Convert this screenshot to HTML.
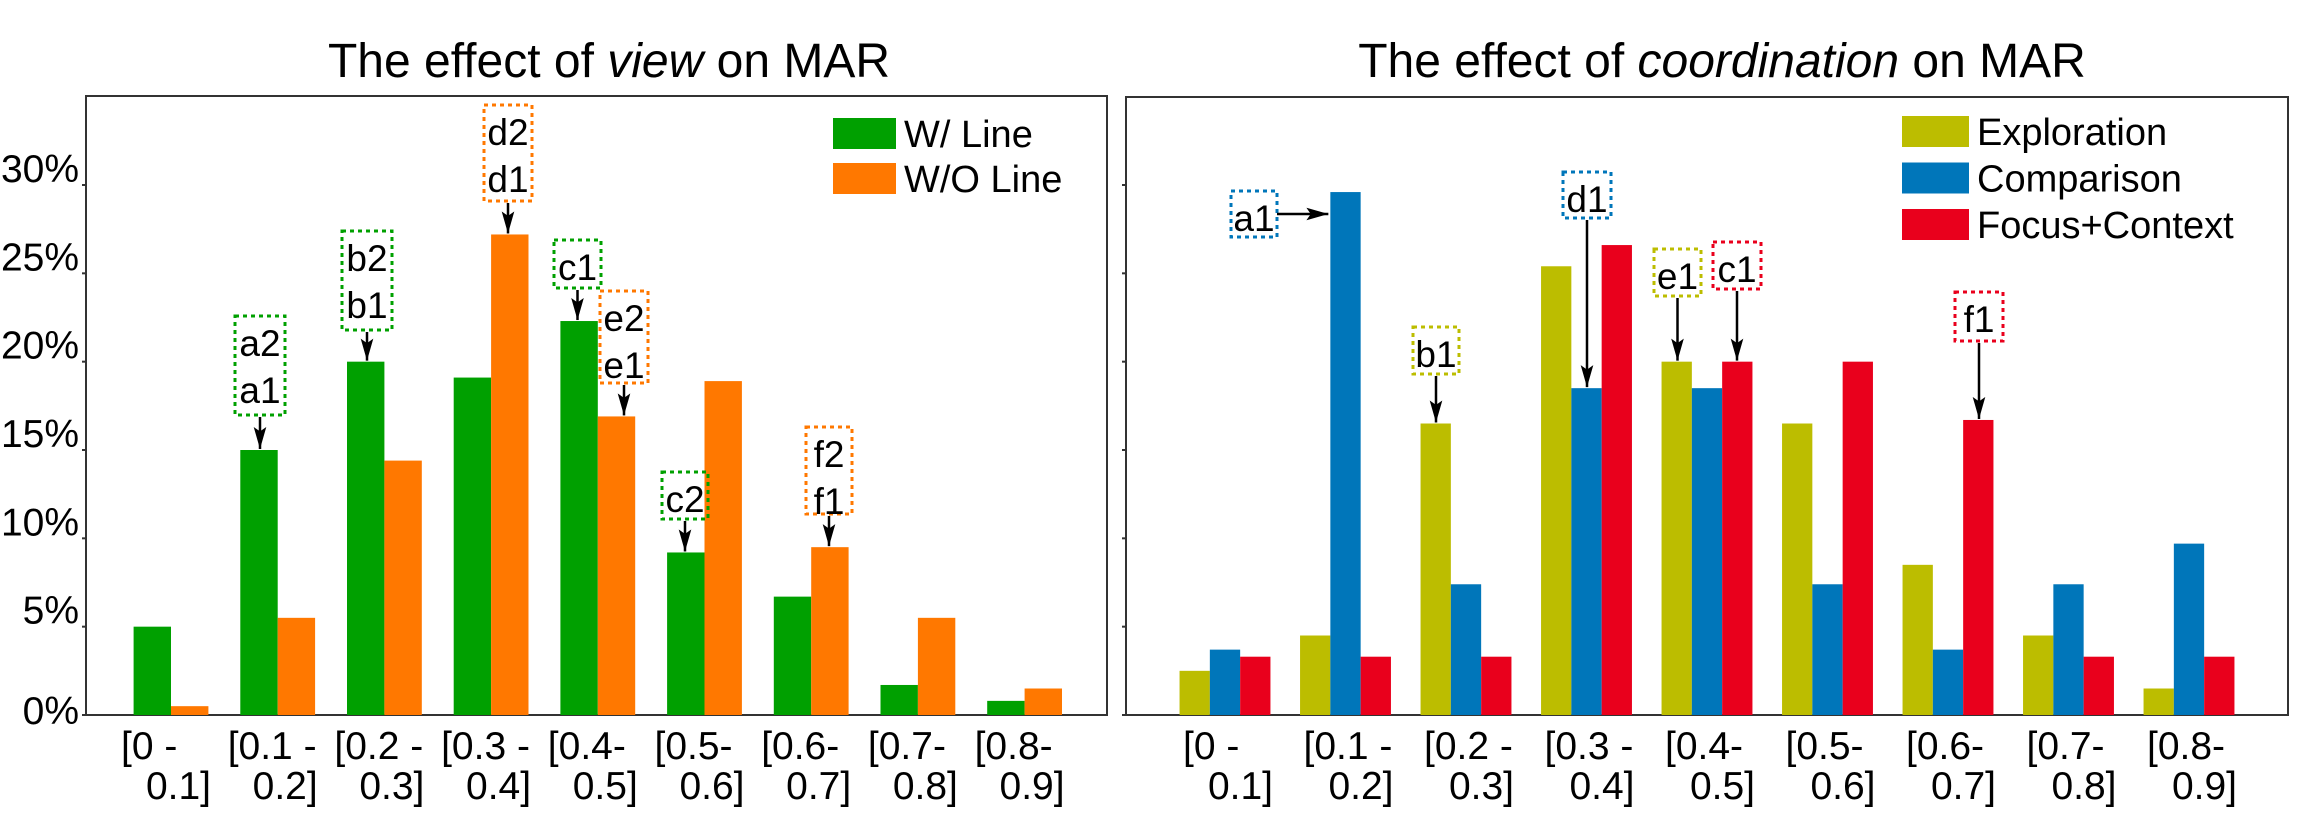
<!DOCTYPE html>
<html><head><meta charset="utf-8">
<style>
html,body{margin:0;padding:0;background:#fff;}
svg{display:block;font-family:"Liberation Sans",Arial,sans-serif;}
</style></head>
<body>
<svg id="chart" width="2307" height="835" viewBox="0 0 2307 835" xmlns="http://www.w3.org/2000/svg">
<defs>
<marker id="ah" viewBox="0 0 10 10" refX="10" refY="5" markerWidth="22" markerHeight="14" markerUnits="userSpaceOnUse" orient="auto" preserveAspectRatio="none">
<path d="M0,0.5 L10,5 L0,9.5 L2,5 z" fill="#000"/></marker>
</defs>
<g id="left"></g>
<g id="right"></g>
</svg>
<script>
const categoriesL1 = ["[0 -","[0.1 -","[0.2 -","[0.3 -","[0.4-","[0.5-","[0.6-","[0.7-","[0.8-"];
const categoriesL2 = ["0.1]","0.2]","0.3]","0.4]","0.5]","0.6]","0.7]","0.8]","0.9]"];
const yTicks = [0,5,10,15,20,25,30];
const yTickLabels = ["0%","5%","10%","15%","20%","25%","30%"];
const withLine = [5,15,20,19.1,22.3,9.2,6.7,1.7,0.8];
const withoutLine = [0.5,5.5,14.4,27.2,16.9,18.9,9.5,5.5,1.5];
const exploration = [2.5,4.5,16.5,25.4,20,16.5,8.5,4.5,1.5];
const comparison = [3.7,29.6,7.4,18.5,18.5,7.4,3.7,7.4,9.7];
const focusContext = [3.3,3.3,3.3,26.6,20,20,16.7,3.3,3.3];

const NS="http://www.w3.org/2000/svg";
function mk(parent,tag,attrs,text){const e=document.createElementNS(NS,tag);for(const k in attrs)e.setAttribute(k,attrs[k]);if(text!==undefined)e.textContent=text;parent.appendChild(e);return e;}
const y0=715, pxPer=(715-185)/30;
function y(v){return y0-v*pxPer;}

function drawChart(g,opt){
  const t=mk(g,'text',{x:opt.titleX,y:77,'text-anchor':'middle','font-size':48,fill:'#000'});
  
  
  mk(t,'tspan',{},'The effect of ');
  mk(t,'tspan',{'font-style':'italic'},opt.titleItalic);
  mk(t,'tspan',{},' on MAR');
  const fr=mk(g,'rect',{x:opt.left,y:opt.top,width:opt.right-opt.left,height:y0-opt.top,fill:'none',stroke:'#333','stroke-width':2});
  
  
  yTicks.forEach((v,i)=>{
    const tk=mk(g,'line',{x1:opt.left-4,x2:opt.left,y1:y(v),y2:y(v),stroke:'#333','stroke-width':2});
    
    
    if(opt.yLabels){
      const lb=mk(g,'text',{x:79,y:y(v)+(v===0?9:-3),'text-anchor':'end','font-size':39,fill:'#000'},yTickLabels[i]);
      
      
    }
  });
  const n=opt.series.length;
  categoriesL1.forEach((c,i)=>{
    const cx=opt.c0+opt.step*i;
    opt.series.forEach((s,j)=>{
      const x=cx-opt.bw*n/2+opt.bw*j;
      const r=mk(g,'rect',{x:x,y:y(s.data[i]),width:opt.bw,height:y0-y(s.data[i]),fill:s.color});
      
      
    });
    const l1=mk(g,'text',{x:cx+opt.l1off,y:759,'font-size':39,fill:'#000'},c);
    
    
    const l2=mk(g,'text',{x:cx+opt.l2off,y:799,'text-anchor':'end','font-size':39,fill:'#000'},categoriesL2[i]);
    
    
  });
  opt.series.forEach((s,j)=>{
    const ly=opt.legY+j*opt.legStep;
    const sw=mk(g,'rect',{x:opt.legX,y:ly,width:opt.legW,height:31,fill:s.color});
    
    
    const lt=mk(g,'text',{x:opt.legX+opt.legW+8,y:ly+29,'font-size':38,fill:'#000'},s.name);
    
    
  });
  opt.annos.forEach(a=>{
    const s=opt.series[a.s];
    const bx=opt.c0+opt.step*a.g-opt.bw*n/2+opt.bw*a.s+opt.bw/2;
    const box=mk(g,'rect',{x:a.x,y:a.y,width:a.w,height:a.h,fill:'none',stroke:a.col,'stroke-width':3,'stroke-dasharray':'4 4'});
    
    
    a.labels.forEach((tx,k)=>{
      const at=mk(g,'text',{x:a.x+a.w/2,y:a.y+40+k*47,'text-anchor':'middle','font-size':37,fill:'#000'},tx);
      
      
    });
    let ar;
    if(a.horiz){
      ar=mk(g,'line',{x1:a.x+a.w,y1:a.y+a.h/2,x2:bx-opt.bw/2-2,y2:a.y+a.h/2,stroke:'#000','stroke-width':2.5,'marker-end':'url(#ah)'});
    } else {
      const ax=a.ax!==undefined?a.ax:a.x+a.w/2;
      ar=mk(g,'line',{x1:ax,y1:a.y+a.h+2,x2:ax,y2:y(s.data[a.g])-1,stroke:'#000','stroke-width':2.5,'marker-end':'url(#ah)'});
    }
    
    
  });
}
const G='#00a000',O='#ff7800',Yc='#bcbd00',B='#0076ba',R='#e9001c';
drawChart(document.getElementById('left'),{
  titleX:609,titleItalic:'view',left:86,right:1107,top:96,yLabels:true,
  c0:171,step:106.7,bw:37.4,l1off:-50,l2off:40,
  legX:833,legY:118,legStep:45,legW:63,
  series:[{key:'w-line',name:'W/ Line',color:G,data:withLine},{key:'wo-line',name:'W/O Line',color:O,data:withoutLine}],
  annos:[
    {g:1,s:0,x:235,y:316,w:50,h:99,col:G,labels:['a2','a1']},
    {g:2,s:0,x:342,y:231,w:50,h:99,col:G,labels:['b2','b1']},
    {g:3,s:1,x:484,y:105,w:48,h:96,col:O,labels:['d2','d1']},
    {g:4,s:0,x:554,y:240,w:47,h:48,col:G,labels:['c1']},
    {g:4,s:1,x:600,y:291,w:48,h:92,col:O,labels:['e2','e1']},
    {g:5,s:0,x:662,y:472,w:46,h:47,col:G,labels:['c2']},
    {g:6,s:1,x:806,y:427,w:46,h:87,col:O,labels:['f2','f1']}
  ]
});
drawChart(document.getElementById('right'),{
  titleX:1722,titleItalic:'coordination',left:1126,right:2288,top:97,yLabels:false,
  c0:1225,step:120.5,bw:30.3,l1off:-42,l2off:48,
  legX:1902,legY:116,legStep:46.5,legW:67,
  series:[{key:'exploration',name:'Exploration',color:Yc,data:exploration},{key:'comparison',name:'Comparison',color:B,data:comparison},{key:'focus-context',name:'Focus+Context',color:R,data:focusContext}],
  annos:[
    {g:1,s:1,x:1231,y:191,w:46,h:46,col:B,labels:['a1'],horiz:true},
    {g:2,s:0,x:1413,y:327,w:46,h:47,col:Yc,labels:['b1']},
    {g:3,s:1,x:1563,y:172,w:48,h:46,col:B,labels:['d1']},
    {g:4,s:0,x:1654,y:249,w:47,h:47,col:Yc,labels:['e1']},
    {g:4,s:2,x:1713,y:242,w:48,h:47,col:R,labels:['c1']},
    {g:6,s:2,x:1955,y:292,w:48,h:49,col:R,labels:['f1']}
  ]
});
</script>
</body></html>
